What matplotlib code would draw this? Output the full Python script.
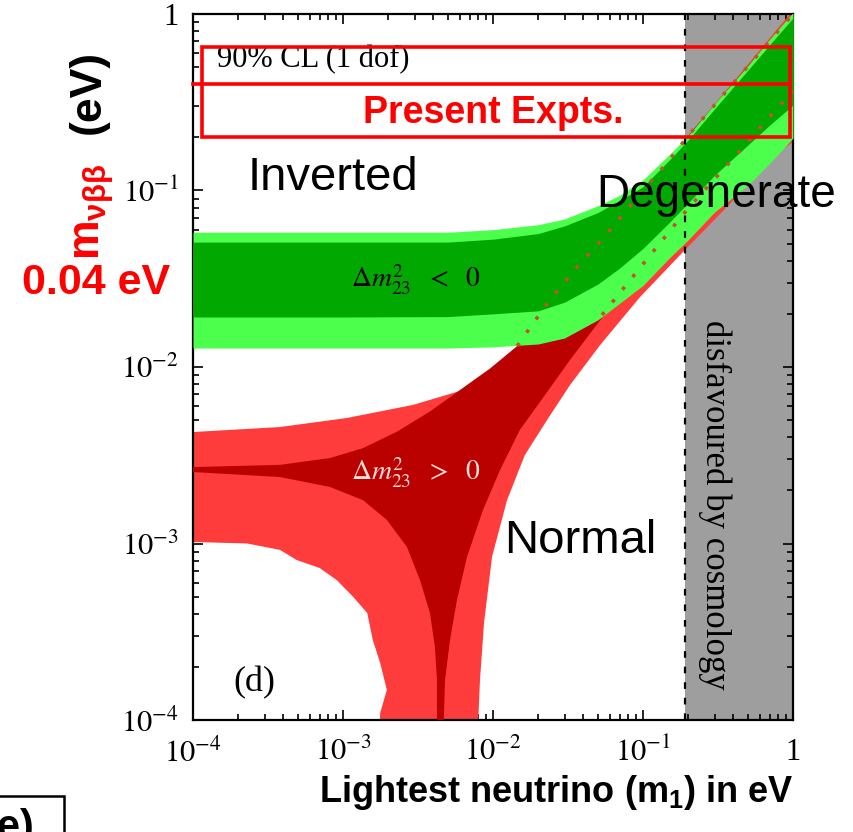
import matplotlib
matplotlib.use("Agg")
import matplotlib.pyplot as plt
from matplotlib.patches import Rectangle
from matplotlib.ticker import LogLocator, NullFormatter

plt.rcParams['font.family'] = ['Liberation Sans', 'DejaVu Sans']
plt.rcParams['mathtext.fontset'] = 'custom'
plt.rcParams['mathtext.rm'] = 'Liberation Sans'
plt.rcParams['mathtext.bf'] = 'Liberation Sans:bold'
plt.rcParams['mathtext.it'] = 'Liberation Sans:italic'

# inverted ordering (dm23 < 0) band, on a shared m1 grid, eV
ih_m1 = [1e-4, 1e-3, 5e-3, 0.01, 0.02, 0.03, 0.05, 0.07, 0.1, 0.15, 0.2, 0.3, 0.5, 0.7, 1.0]
ih_light_hi = [0.058, 0.058, 0.058, 0.060, 0.064, 0.069, 0.082, 0.094, 0.115, 0.16, 0.205, 0.31, 0.51, 0.72, 1.02]
ih_dark_hi = [0.051, 0.051, 0.051, 0.053, 0.057, 0.063, 0.075, 0.088, 0.105, 0.149, 0.193, 0.29, 0.48, 0.67, 0.95]
ih_dark_lo = [0.0192, 0.0192, 0.0193, 0.020, 0.0208, 0.0233, 0.0295, 0.0364, 0.047, 0.066, 0.085, 0.122, 0.181, 0.235, 0.305]
ih_light_lo = [0.0128, 0.0128, 0.0128, 0.0130, 0.0135, 0.0146, 0.0185, 0.023, 0.029, 0.0415, 0.0525, 0.0755, 0.107, 0.143, 0.198]

# normal ordering (dm23 > 0), outer region outline
nh_outer_m1 = [1e-4, 3.8e-4, 1.06e-3, 2.93e-3, 6.3e-3, 0.0106, 0.0151, 0.0206, 0.028, 0.1, 1.0,
               1.0, 0.736, 0.38, 0.185, 0.0955, 0.0517, 0.0326, 0.0229, 0.0163, 0.0124,
               9.85e-3, 8.71e-3, 8.19e-3, 7.7e-3, 1.69e-3,
               1.77e-3, 1.96e-3, 1.77e-3, 1.58e-3, 1.45e-3, 1.17e-3, 9.1e-4, 7.0e-4, 4.9e-4, 3.8e-4, 2.3e-4, 1e-4]
nh_outer_mbb = [4.28e-3, 4.57e-3, 5.14e-3, 6.1e-3, 7.4e-3, 8.9e-3, 0.0107, 0.0125, 0.0137, 0.10, 1.05,
                0.188, 0.157, 0.084, 0.0449, 0.0249, 0.0133, 7.9e-3, 5.0e-3, 3.17e-3, 1.76e-3,
                8.4e-4, 3.55e-4, 1.69e-4, 5e-5, 5e-5,
                1.1e-4, 1.48e-4, 2.1e-4, 2.84e-4, 4.04e-4, 4.98e-4, 6.2e-4, 7.26e-4, 8.07e-4, 9.2e-4, 1.0e-3, 1.02e-3]

# normal ordering, best-fit region edges
nh_dark_hi_m1 = [1e-4, 3.8e-4, 8.2e-4, 1.36e-3, 2.29e-3, 3.8e-3, 5.75e-3, 9.55e-3, 0.0145]
nh_dark_hi = [2.71e-3, 2.79e-3, 3.05e-3, 3.47e-3, 4.3e-3, 5.6e-3, 7.2e-3, 0.0098, 0.01315]
nh_dark_lf_m1 = [1e-4, 3.8e-4, 8.2e-4, 1.36e-3, 1.96e-3, 2.67e-3, 3.26e-3, 3.8e-3, 4.1e-3, 4.23e-3, 4.23e-3]
nh_dark_lf = [2.54e-3, 2.38e-3, 2.09e-3, 1.76e-3, 1.36e-3, 9.55e-4, 6.2e-4, 4.04e-4, 2.59e-4, 1.69e-4, 5e-5]
nh_dark_rt_m1 = [4.57e-3, 4.79e-3, 5.17e-3, 5.75e-3, 6.71e-3, 8.58e-3, 0.01114, 0.0151, 0.0222, 0.0326, 0.0533]
nh_dark_rt = [5e-5, 1.69e-4, 2.84e-4, 4.79e-4, 8.4e-4, 1.55e-3, 2.61e-3, 4.4e-3, 6.94e-3, 0.01096, 0.019]
# same edges where they run under the inverted band (drawn dotted)
nh_dot_hi_m1 = [0.0145, 0.0233, 0.0363, 0.0558, 0.0885, 0.14, 0.215, 1.0]
nh_dot_hi = [0.01315, 0.0233, 0.0369, 0.0552, 0.0883, 0.139, 0.22, 1.0]
nh_dot_lo_m1 = [0.0533, 0.1, 0.196, 0.493, 1.0]
nh_dot_lo = [0.0197, 0.0383, 0.0776, 0.186, 0.37]

cosmo_limit = 0.19

fig = plt.figure(figsize=(8.54, 8.32), dpi=100)
ax = fig.add_axes([0.226, 0.1346, 0.7026, 0.8486])
ax.set_xscale('log')
ax.set_yscale('log')
ax.set_xlim(1e-4, 1)
ax.set_ylim(1e-4, 1)

ax.axvspan(cosmo_limit, 1, color='#9e9e9e', lw=0, zorder=1)

ax.fill(nh_outer_m1, nh_outer_mbb, color='#ff3c3c', lw=0, zorder=2)
dark_m1 = nh_dark_lf_m1 + nh_dark_rt_m1 + nh_dot_lo_m1 + nh_dot_hi_m1[::-1] + nh_dark_hi_m1[::-1]
dark_mbb = nh_dark_lf + nh_dark_rt + nh_dot_lo + nh_dot_hi[::-1] + nh_dark_hi[::-1]
ax.fill(dark_m1, dark_mbb, color='#bb0000', lw=0, zorder=3)

ax.fill_between(ih_m1, ih_light_lo, ih_light_hi, color='#4dff4d', lw=0, zorder=4)
ax.fill_between(ih_m1, ih_dark_lo, ih_dark_hi, color='#00a800', lw=0, zorder=4)

ax.plot(nh_dot_hi_m1, nh_dot_hi, ls=(0, (1, 3.5)), lw=2.6, color='#b8582c', zorder=5)
ax.plot(nh_dot_lo_m1, nh_dot_lo, ls=(0, (1, 3.5)), lw=2.6, color='#b8582c', zorder=5)

ax.axvline(cosmo_limit, color='black', ls=(0, (3, 4)), lw=1.6, zorder=6)

# labels inside the frame
serif = 'Liberation Serif'
ax.text(1.45e-4, 0.55, '90% CL (1 dof)', family=serif, fontsize=22, va='center', ha='left', zorder=7)
ax.text(3.07e-3, 0.031, r'$\Delta m^2_{23}\ \ <\ \ 0$', math_fontfamily='stix', fontsize=20,
        ha='center', va='center', zorder=7)
ax.text(3.07e-3, 2.5e-3, r'$\Delta m^2_{23}\ \ >\ \ 0$', math_fontfamily='stix', fontsize=20,
        color='#ffe0dc', ha='center', va='center', zorder=7)
ax.text(2.55e-4, 1.62e-4, '(d)', family=serif, fontsize=26, ha='center', va='center', zorder=7)
ax.text(0.302, 1.65e-3, 'disfavoured by cosmology', family=serif, fontsize=25, rotation=270,
        ha='center', va='center', zorder=7)

# present experimental sensitivity
ax.add_patch(Rectangle((1.15e-4, 0.2), 0.955 - 1.15e-4, 0.65 - 0.2, fill=False,
                       ec='red', lw=2.6, zorder=8, clip_on=False))
ax.plot([1e-4, 0.955], [0.4, 0.4], color='red', lw=2.6, zorder=8, clip_on=False)

ax.set_xticks([1e-4, 1e-3, 1e-2, 1e-1, 1])
ax.set_xticklabels([r'$10^{-4}$', r'$10^{-3}$', r'$10^{-2}$', r'$10^{-1}$', '1'],
                   math_fontfamily='stix', family=serif, fontsize=22)
ax.set_yticks([1e-4, 1e-3, 1e-2, 1e-1, 1])
ax.set_yticklabels([r'$10^{-4}$', r'$10^{-3}$', r'$10^{-2}$', r'$10^{-1}$', '1'],
                   math_fontfamily='stix', family=serif, fontsize=22)
for axis in (ax.xaxis, ax.yaxis):
    axis.set_minor_locator(LogLocator(base=10, subs=range(2, 10)))
    axis.set_minor_formatter(NullFormatter())
ax.tick_params(which='both', direction='in', top=True, right=True, width=1.2)
ax.tick_params(which='major', length=7)
ax.tick_params(which='minor', length=4)
ax.tick_params(axis='x', pad=13)
ax.tick_params(axis='y', pad=10)
for sp in ax.spines.values():
    sp.set_linewidth(1.6)

# slide annotations around the plot
fig.text(0.390, 0.786, 'Inverted', fontsize=34, ha='center', va='center')
fig.text(0.838, 0.766, 'Degenerate', fontsize=33, ha='center', va='center', zorder=10)
fig.text(0.680, 0.350, 'Normal', fontsize=34, ha='center', va='center')
fig.text(0.577, 0.864, 'Present Expts.', fontsize=27, fontweight='bold', color='red',
         ha='center', va='center', zorder=10)
fig.text(0.112, 0.660, '0.04 eV', fontsize=31, fontweight='bold', color='red', ha='center', va='center')
fig.text(0.103, 0.889, '(eV)', fontsize=32, fontweight='bold', rotation=90, ha='center', va='center')
fig.text(0.111, 0.745, r'$\mathbf{m}_{\mathbf{\nu\beta\beta}}$', fontsize=32, color='red',
         rotation=90, ha='center', va='center')
fig.text(0.652, 0.047, r'Lightest neutrino (m$_\mathbf{1}$) in eV', fontsize=26,
         fontweight='bold', ha='center', va='center')

# neighbouring panel tag, cut by the page edge
fig.patches.append(Rectangle((-0.01, -0.05), 64 / 854 + 0.01, 0.05 + 36 / 832, fill=False,
                             ec='black', lw=1.8, transform=fig.transFigure, figure=fig))
fig.text(0.041, -0.0084, '(e)', fontsize=30, fontweight='bold', ha='right', va='baseline')

fig.savefig('out.png', dpi=100)
